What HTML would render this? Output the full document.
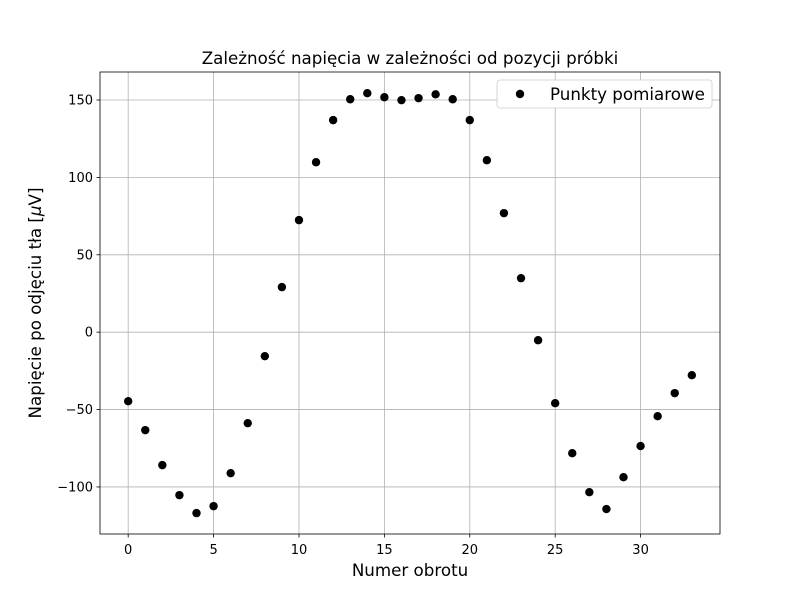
<!DOCTYPE html>
<html><head><meta charset="utf-8"><style>
body{margin:0;background:#fff;}
svg{display:block;font-family:"DejaVu Sans","Liberation Sans",sans-serif;}
</style></head><body>
<svg id="chart" width="800" height="600"></svg>
<script>
const turns=[0,1,2,3,4,5,6,7,8,9,10,11,12,13,14,15,16,17,18,19,20,21,22,23,24,25,26,27,28,29,30,31,32,33];
const voltages=[-44.6,-63.3,-85.9,-105.3,-116.9,-112.4,-91.1,-58.8,-15.5,29.1,72.4,109.8,137,150.5,154.4,151.8,149.9,151.2,153.7,150.5,137,111.1,76.9,34.9,-5.2,-45.9,-78.2,-103.4,-114.3,-93.7,-73.6,-54.3,-39.4,-27.8];
const xTicks=[0,5,10,15,20,25,30];
const yTicks=[-100,-50,0,50,100,150];
const L=100,R=720,T=72,B=534;
const xMin=-1.65,xMax=34.65,yMin=-130.4,yMax=168.1;
const sx=v=>L+(v-xMin)/(xMax-xMin)*(R-L);
const sy=v=>B-(v-yMin)/(yMax-yMin)*(B-T);
const svg=document.getElementById('chart');
const NS='http://www.w3.org/2000/svg';
function mk(tag,attrs,parent){const e=document.createElementNS(NS,tag);for(const k in attrs)e.setAttribute(k,attrs[k]);(parent||svg).appendChild(e);return e;}
const fmt=t=>t<0?'\u2212'+(-t):String(t);
xTicks.forEach(t=>{const x=sx(t);
 let g=mk('line',{x1:x,x2:x,y1:T,y2:B,stroke:'#b0b0b0','stroke-width':0.8});
 
 
 mk('line',{x1:x,x2:x,y1:B,y2:B+3.5,stroke:'#000','stroke-width':0.8});
 let tx=mk('text',{x:x,y:B+20,'font-size':13,'text-anchor':'middle'});tx.textContent=fmt(t);
 
 
});
yTicks.forEach(t=>{const y=sy(t);
 let g=mk('line',{x1:L,x2:R,y1:y,y2:y,stroke:'#b0b0b0','stroke-width':0.8});
 
 
 mk('line',{x1:L-3.5,x2:L,y1:y,y2:y,stroke:'#000','stroke-width':0.8});
 let tx=mk('text',{x:L-7,y:y+4.5,'font-size':13,'text-anchor':'end'});tx.textContent=fmt(t);
 
 
});
turns.forEach((t,i)=>{
 const c=mk('circle',{cx:sx(t),cy:sy(voltages[i]),r:4.2,fill:'#000'});
 
 
});
const fr=mk('rect',{x:L,y:T,width:R-L,height:B-T,fill:'none',stroke:'#000','stroke-width':0.8});


let ti=mk('text',{x:410,y:64,'font-size':16.7,'text-anchor':'middle'});ti.textContent='Zależność napięcia w zależności od pozycji próbki';


let xl=mk('text',{x:410,y:576,'font-size':16.7,'text-anchor':'middle'});xl.textContent='Numer obrotu';


let yl=mk('text',{x:0,y:0,'font-size':16.7,'text-anchor':'middle',transform:'translate(41,303) rotate(-90)'});
yl.innerHTML='Napięcie po odjęciu tła [<tspan font-style="italic">μ</tspan>V]';


const lg=mk('g',{});


mk('rect',{x:497,y:80,width:215,height:28,rx:3,fill:'#fff',stroke:'#ccc','stroke-width':0.8},lg);
mk('circle',{cx:520,cy:94,r:4.2,fill:'#000'},lg);
let lt=mk('text',{x:550,y:100,'font-size':16.7},lg);lt.textContent='Punkty pomiarowe';


</script>
</body></html>
